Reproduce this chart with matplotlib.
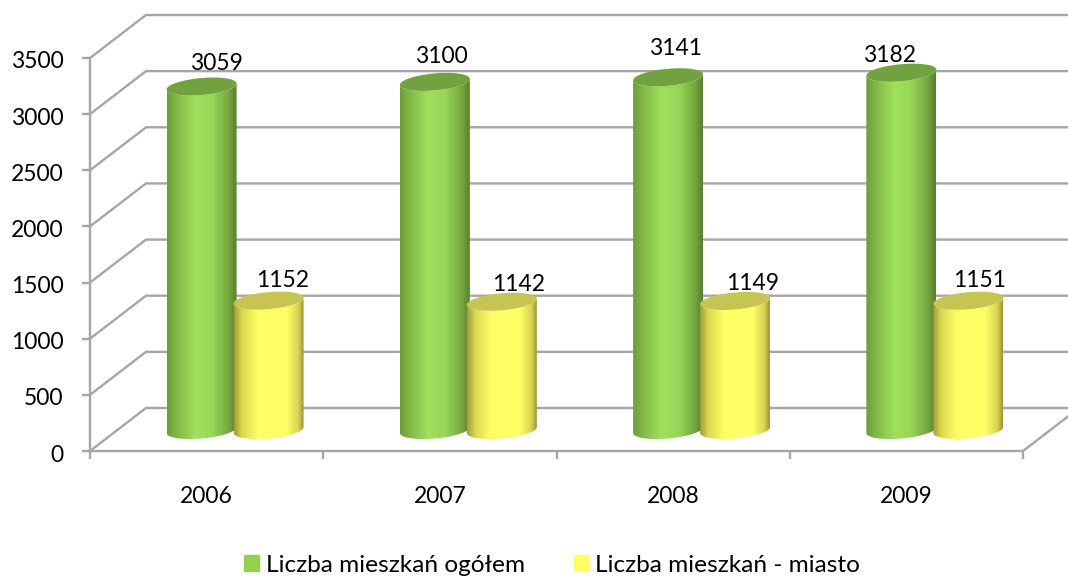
import numpy as np
from matplotlib import pyplot as plt
from matplotlib.colors import LinearSegmentedColormap
from matplotlib.patches import Patch, Polygon
from matplotlib.transforms import ScaledTranslation

years = ["2006", "2007", "2008", "2009"]
total = [3059, 3100, 3141, 3182]
city = [1152, 1142, 1149, 1151]
y_ticks = [0, 500, 1000, 1500, 2000, 2500, 3000, 3500]
series_names = ["Liczba mieszkań ogółem", "Liczba mieszkań - miasto"]

# label nudges in pixels from the top of each cylinder
total_nudge = [(15, 44), (7, 46), (7, 50), (-12, 38)]
city_nudge = [(14, 41), (17, 38), (17, 38), (11, 41)]

W, H = 1068, 576
LEFT, RIGHT, TOP, BOTTOM = 90, 1023, 58, 451
PX_X = (RIGHT - LEFT) / 4
PX_Y = (BOTTOM - TOP) / 3500
GRID = "#a6a6a6"

plt.rcParams["font.family"] = ["Lato", "DejaVu Sans"]
fig = plt.figure(figsize=(W / 100, H / 100), dpi=100)
ax = fig.add_axes([LEFT / W, 1 - BOTTOM / H, (RIGHT - LEFT) / W, (BOTTOM - TOP) / H])

# depth of the 3d box, in data units
depth_x = 56 / PX_X
depth_y = 43 / PX_Y

for v in y_ticks:
    ax.plot([0, depth_x, 5], [v, v + depth_y, v + depth_y], color=GRID, lw=1.7,
            clip_on=False, solid_joinstyle="miter", zorder=1)
ax.plot([4, 4 + depth_x], [0, depth_y], color=GRID, lw=1.7, clip_on=False, zorder=1)

green = LinearSegmentedColormap.from_list(
    "g", [(0, "#6c9c3a"), (0.12, "#80b445"), (0.4, "#9fe05c"), (0.65, "#98d657"),
          (0.88, "#76a83f"), (1, "#567f30")])
yellow = LinearSegmentedColormap.from_list(
    "y", [(0, "#a39c3c"), (0.12, "#dcd950"), (0.35, "#ffff66"), (0.75, "#ffff66"),
          (0.92, "#d8d552"), (1, "#9a943a")])
ramp = np.linspace(0, 1, 256).reshape(1, -1)

t = np.linspace(0, 2 * np.pi, 121)
half_w = 35 / PX_X
half_h = 8.5 / PX_Y
shear = 3 / PX_Y
mid_y = 21 / PX_Y


def cylinder(cx, value, cmap, top_color, z):
    xs = cx + half_w * np.cos(t)
    top_y = value + mid_y - half_h * np.sin(t) + shear * np.cos(t)
    base_y = mid_y - half_h * np.sin(t) + shear * np.cos(t)
    # front arc of the base plus back arc of the top
    front = np.sin(t) > 0
    body = np.vstack([
        np.column_stack([xs[front], top_y[front]]),
        np.column_stack([xs[front][::-1], base_y[front][::-1]]),
    ])
    shape = Polygon(body, closed=True, fc="none", ec="none", transform=ax.transData)
    ax.add_patch(shape)
    im = ax.imshow(ramp, cmap=cmap, aspect="auto", zorder=z, interpolation="bilinear",
                   extent=[cx - half_w, cx + half_w, -50, value + 1000])
    im.set_clip_path(shape)
    ax.add_patch(Polygon(np.column_stack([xs, top_y]), closed=True, fc=top_color,
                         ec="none", zorder=z + 0.1))


for i in range(len(years)):
    c = i + 0.5 + 28.5 / PX_X
    cylinder(c - 33.5 / PX_X, total[i], green, "#71a23f", 2)
    cylinder(c + 33.5 / PX_X, city[i], yellow, "#c6c452", 3)
    ax.annotate(str(total[i]), (c - 33.5 / PX_X, total[i]), xytext=total_nudge[i],
                textcoords="offset pixels", ha="center", va="center", fontsize=16.5, zorder=5)
    ax.annotate(str(city[i]), (c + 33.5 / PX_X, city[i]), xytext=city_nudge[i],
                textcoords="offset pixels", ha="center", va="center", fontsize=16.5, zorder=5)

ax.set_xlim(0, 4)
ax.set_ylim(0, 3500)
ax.set_xticks(range(5))
ax.set_xticklabels([])
ax.set_xticks(np.arange(4) + 0.5, years, minor=True)
ax.set_yticks(y_ticks)
ax.tick_params(axis="both", which="major", color=GRID, width=1.7, length=6, labelsize=16.5)
ax.tick_params(axis="x", which="minor", length=0, labelsize=16.5, pad=25)
ax.tick_params(axis="y", pad=13)
ax.patch.set_visible(False)
for s in ["top", "right"]:
    ax.spines[s].set_visible(False)
for s in ["left", "bottom"]:
    ax.spines[s].set_color(GRID)
    ax.spines[s].set_linewidth(1.7)

# y labels sit slightly lower in the reference
down = ScaledTranslation(0, -2 / 100, fig.dpi_scale_trans)
for lab in ax.get_yticklabels():
    lab.set_transform(lab.get_transform() + down)

handles = [Patch(color="#92d050"), Patch(color="#ffff66")]
fig.legend(handles, series_names, loc="center", bbox_to_anchor=(552 / W, 1 - 565 / H), ncol=2,
           frameon=False, fontsize=17.6, handlelength=0.62, handleheight=0.62,
           handletextpad=0.25, columnspacing=2.0)

fig.savefig("out.png", dpi=100)
